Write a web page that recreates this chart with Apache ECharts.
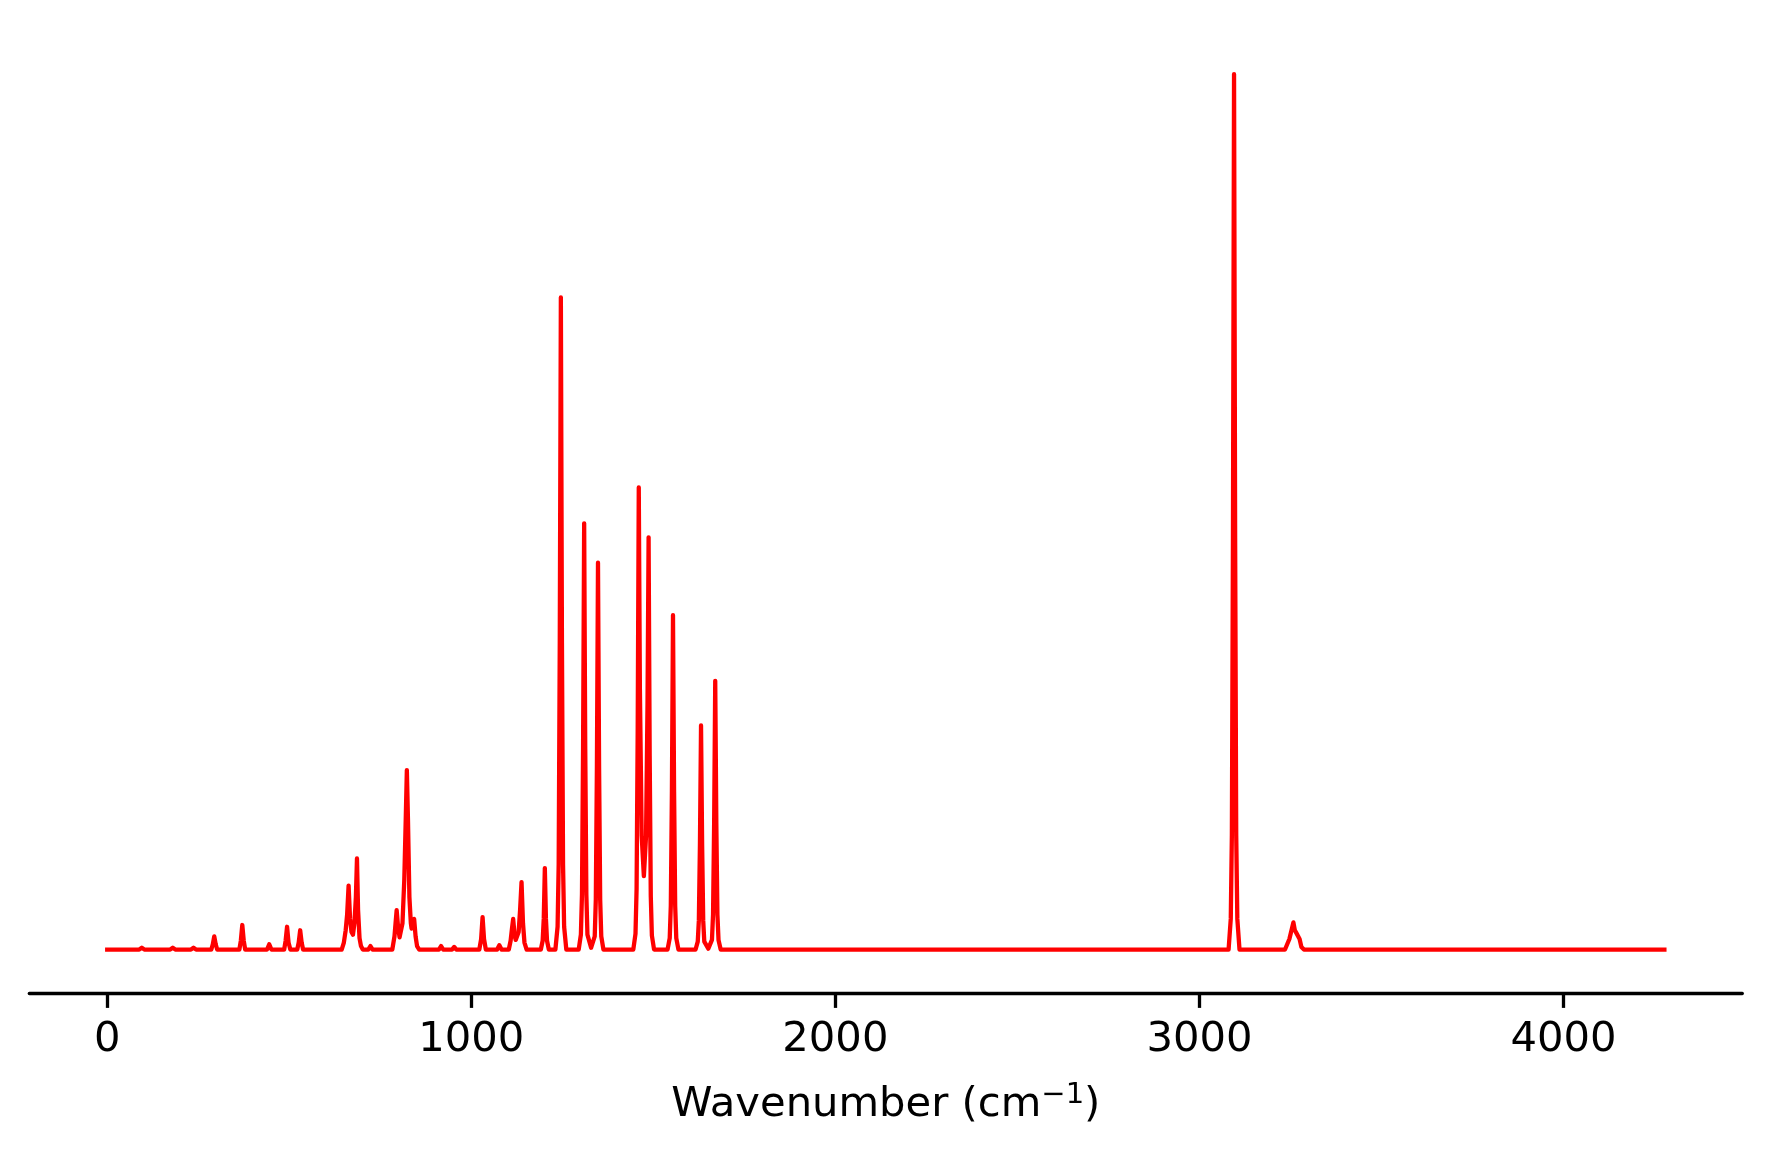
<!DOCTYPE html>
<html>
<head>
<meta charset="utf-8">
<script src="https://cdn.jsdelivr.net/npm/echarts@6/dist/echarts.min.js"></script>
<style>
  html, body { margin: 0; padding: 0; background: #fff; }
  #chart { width: 1770px; height: 1158px; }
</style>
</head>
<body>
<div id="chart"></div>
<script>
// tick marks of the wavenumber axis
const xTicks = [0, 1000, 2000, 3000, 4000]

// spectrum: wavenumber (cm-1) and relative intensity
const wavenumbers = [
  0, 88, 95, 102, 173, 180, 187, 230, 237, 244,
  286, 290, 294, 298, 302, 363, 367, 371, 375, 379,
  439, 445, 451, 486, 490, 494, 498, 503, 522, 526, 530, 534, 538,
  644, 650, 655, 659, 663, 667, 671, 675, 679, 683, 686, 689, 693, 697, 702,
  717, 723, 729,
  783, 789, 792, 795, 799, 803, 806, 811, 816, 820, 823, 826, 830, 834, 836, 840, 843, 847, 851, 857,
  911, 917, 923, 947, 953, 959,
  1022, 1027, 1031, 1035, 1040, 1071, 1077, 1083,
  1103, 1108, 1112, 1115, 1119, 1122, 1126, 1130, 1134, 1138, 1142, 1146, 1152,
  1191, 1196, 1199, 1202, 1205, 1208, 1213,
  1231, 1237, 1240, 1243, 1246, 1249, 1252, 1255, 1261,
  1295, 1301, 1304, 1307, 1310, 1313, 1316, 1319, 1329,
  1339, 1342, 1345, 1348, 1351, 1354, 1357, 1363,
  1445, 1451, 1454, 1457, 1460, 1463, 1468, 1474, 1480, 1484, 1487, 1490, 1493, 1496, 1502,
  1539, 1545, 1548, 1551, 1554, 1557, 1560, 1563, 1569,
  1616, 1622, 1625, 1628, 1631, 1634, 1637, 1640, 1651,
  1661, 1664, 1667, 1670, 1673, 1676, 1679, 1685,
  3080, 3086, 3089, 3092, 3095, 3098, 3101, 3104, 3110,
  3235, 3247, 3254, 3258, 3262, 3266, 3271, 3275, 3280, 3287,
  4277
]
const intensities = [
  0, 0, 0.002, 0, 0, 0.002, 0, 0, 0.002, 0,
  0, 0.006, 0.015, 0.006, 0, 0, 0.01, 0.028, 0.01, 0,
  0, 0.006, 0, 0, 0.01, 0.026, 0.008, 0, 0, 0.008, 0.022, 0.008, 0,
  0, 0.008, 0.022, 0.04, 0.073, 0.035, 0.02, 0.017, 0.03, 0.06, 0.104, 0.045, 0.013, 0.004, 0,
  0, 0.004, 0,
  0, 0.015, 0.03, 0.045, 0.025, 0.014, 0.013, 0.03, 0.08, 0.15, 0.205, 0.15, 0.06, 0.03, 0.024, 0.028, 0.035, 0.015, 0.004, 0,
  0, 0.004, 0, 0, 0.003, 0,
  0, 0.012, 0.037, 0.012, 0, 0, 0.005, 0,
  0, 0.01, 0.025, 0.035, 0.016, 0.011, 0.011, 0.02, 0.045, 0.077, 0.03, 0.008, 0,
  0, 0.01, 0.035, 0.093, 0.035, 0.01, 0,
  0, 0.026, 0.097, 0.35, 0.745, 0.35, 0.097, 0.026, 0,
  0, 0.017, 0.063, 0.229, 0.487, 0.229, 0.063, 0.017, 0.002,
  0.015, 0.057, 0.208, 0.442, 0.208, 0.057, 0.015, 0,
  0, 0.018, 0.069, 0.248, 0.528, 0.3, 0.13, 0.084, 0.13, 0.28, 0.471, 0.221, 0.061, 0.016, 0,
  0, 0.013, 0.05, 0.18, 0.382, 0.18, 0.05, 0.013, 0,
  0, 0.009, 0.033, 0.12, 0.256, 0.12, 0.033, 0.009, 0.001,
  0.011, 0.04, 0.144, 0.307, 0.144, 0.04, 0.011, 0,
  0, 0.035, 0.13, 0.47, 1.0, 0.47, 0.13, 0.035, 0,
  0, 0.012, 0.024, 0.031, 0.022, 0.019, 0.019, 0.012, 0.003, 0,
  0
]

const points = wavenumbers.map((w, i) => [w, intensities[i]])

const myChart = echarts.init(document.getElementById('chart'), null, { renderer: 'canvas' })
const font = 'DejaVu Sans'
const option = {
  animation: false,
  backgroundColor: '#fff',
  grid: { left: 29.3, right: 27.7, top: 30.5, bottom: 164.7, containLabel: false },
  xAxis: {
    type: 'value',
    min: -214,
    max: 4491,
    name: 'Wavenumber (cm{sup|−1})',
    nameLocation: 'middle',
    nameGap: 88,
    nameTextStyle: {
      fontFamily: font,
      fontSize: 41.7,
      color: '#000',
      rich: {
        sup: { fontFamily: font, fontSize: 29, color: '#000', padding: [0, 0, 18, 0] }
      }
    },
    axisLine: { onZero: false, lineStyle: { color: '#000', width: 3.3 } },
    axisTick: { show: true, inside: false, length: 14.6, lineStyle: { color: '#000', width: 3.3 }, customValues: xTicks },
    axisLabel: {
      fontFamily: font,
      fontSize: 41.7,
      color: '#000',
      margin: 26,
      customValues: xTicks,
      formatter: value => String(value)
    },
    splitLine: { show: false }
  },
  yAxis: {
    type: 'value',
    min: -0.05,
    max: 1.05,
    show: false
  },
  series: [
    {
      type: 'line',
      data: points,
      showSymbol: false,
      smooth: false,
      lineStyle: { color: '#ff0000', width: 4.3, join: 'round', cap: 'square' },
      itemStyle: { color: '#ff0000' }
    }
  ]
}
option && myChart.setOption(option)
</script>
</body>
</html>
